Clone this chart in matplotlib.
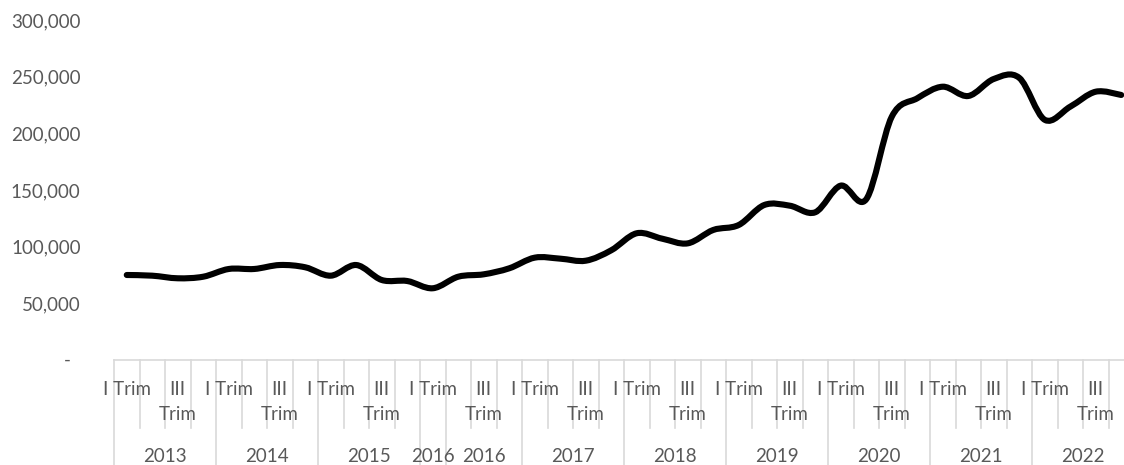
import numpy as np
import matplotlib.pyplot as plt
from matplotlib.path import Path
from matplotlib.patches import PathPatch

plt.rcParams['font.family'] = ['Lato', 'DejaVu Sans']

# quarterly values, 2013 I Trim .. 2022 IV Trim
values = [75200, 74600, 72300, 73700, 80500, 80500, 84000, 82000,
          74600, 84000, 70800, 69900, 63500, 73700, 75800, 81100,
          90500, 89600, 87800, 97000, 112000, 107200, 103100, 114900,
          119300, 136900, 136300, 130500, 154000, 142000, 214700, 231000,
          241200, 233000, 248000, 249000, 212000, 223600, 236800, 233900]

years = ["2013", "2014", "2015", "2016", "2016", "2017",
         "2018", "2019", "2020", "2021", "2022"]
group_sizes = [4, 4, 4, 1, 3, 4, 4, 4, 4, 4, 4]
quarters = ["I Trim", "II Trim", "III Trim", "IV Trim"]
quarter_idx = [0, 1, 2, 3, 0, 1, 2, 3, 0, 1, 2, 3, 0, 1, 2, 3,
               0, 1, 2, 3, 0, 1, 2, 3, 0, 1, 2, 3, 0, 1, 2, 3,
               0, 1, 2, 3, 0, 1, 2, 3]

yticks = [0, 50000, 100000, 150000, 200000, 250000, 300000]

TXT = "#595959"
GRID = "#D9D9D9"


def smooth_path(xs, ys):
    # excel-like smoothed line: cubic bezier through every point
    pts = np.column_stack([xs, ys]).astype(float)
    n = len(pts)
    verts = [pts[0]]
    codes = [Path.MOVETO]
    for i in range(n - 1):
        p0 = pts[max(i - 1, 0)]
        p1 = pts[i]
        p2 = pts[i + 1]
        p3 = pts[min(i + 2, n - 1)]
        verts += [p1 + (p2 - p0) / 6, p2 - (p3 - p1) / 6, p2]
        codes += [Path.CURVE4] * 3
    return Path(verts, codes)


fig = plt.figure(figsize=(11.24, 4.65), dpi=100)
ax = fig.add_axes([114 / 1124, (465 - 360.3) / 465, 1020 / 1124, 340.3 / 465])

n = len(values)
x = np.arange(n) + 0.5
line = PathPatch(smooth_path(x, values), fill=False, edgecolor="black",
                 lw=4.4, capstyle="round", joinstyle="round")
ax.add_patch(line)

ax.set_xlim(0, n)
ax.set_ylim(0, 300000)
for s in ax.spines.values():
    s.set_visible(False)
ax.axhline(0, color=GRID, lw=1.2, clip_on=False)

ax.set_xticks([])
ax.set_yticks(yticks)
ax.set_yticklabels([f"{v:,}" if v else "" for v in yticks])
ax.tick_params(axis="y", length=0, pad=24, labelsize=13.5, labelcolor=TXT)
ax.text(-0.046, 0, "-", transform=ax.get_yaxis_transform(), ha="center",
        va="center", fontsize=13.5, color=TXT)

# multi-level category axis
xt = ax.get_xaxis_transform()
bounds = np.cumsum([0] + group_sizes)
for k in range(n + 1):
    low = -0.33 if k in bounds else -0.199
    ax.plot([k, k], [0, low], transform=xt, color=GRID, lw=1.2, clip_on=False)

for i in range(0, n, 2):
    lab = quarters[quarter_idx[i]]
    rows = [lab] if len(lab) <= 6 else lab.split(" ")
    for r, txt in enumerate(rows):
        ax.text(i + 0.5, -0.0858 - 0.0735 * r, txt, transform=xt, ha="center",
                va="center", fontsize=13.5, color=TXT)

for j, yr in enumerate(years):
    mid = (bounds[j] + bounds[j + 1]) / 2
    ax.text(mid, -0.283, yr, transform=xt, ha="center", va="center",
            fontsize=13.5, color=TXT)

fig.savefig("out.png", dpi=100)
